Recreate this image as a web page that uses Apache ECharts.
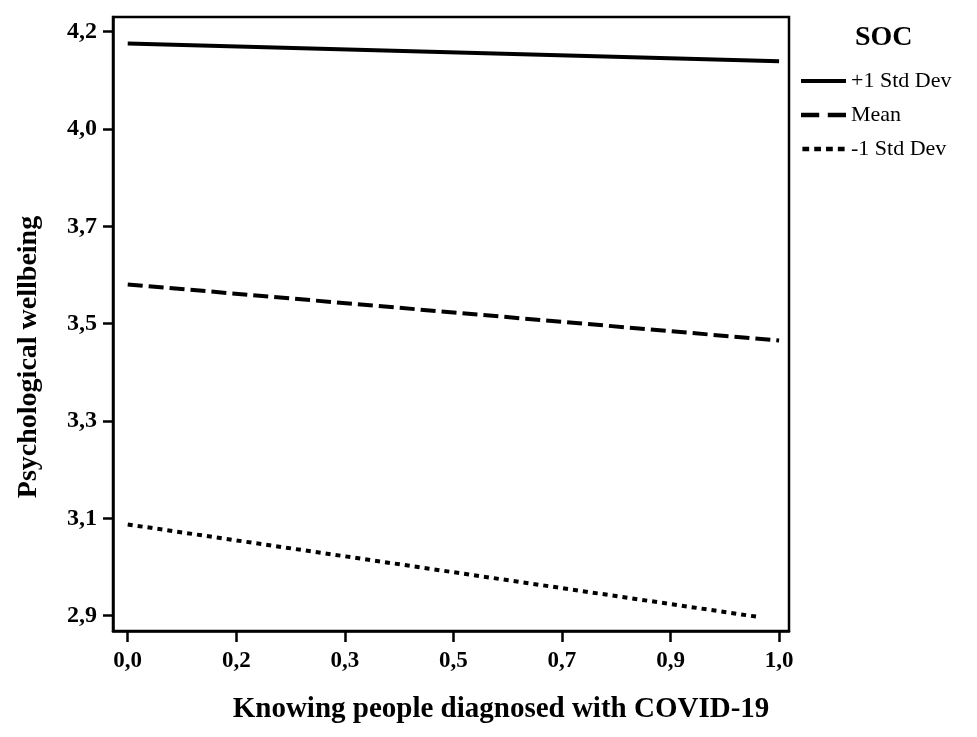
<!DOCTYPE html>
<html>
<head>
<meta charset="utf-8">
<script src="https://cdn.jsdelivr.net/npm/echarts@6.0.0/dist/echarts.min.js"></script>
<style>
html,body{margin:0;padding:0;background:#fff;}
#chart{width:977px;height:737px;}
</style>
</head>
<body>
<div id="chart"></div>
<script>
// ---- data ----
var seriesNames = ['+1 Std Dev', 'Mean', '-1 Std Dev'];
var xPlusSD = [0, 1];
var plusSD = [4.135, 4.097];
var xMean = [0, 1];
var meanVals = [3.620, 3.500];
var xMinusSD = [0, 0.965];
var minusSD = [3.107, 2.910];

var xTickValues = [0, 0.1667, 0.3333, 0.5, 0.6667, 0.8333, 1];
var xTickLabels = ['0,0', '0,2', '0,3', '0,5', '0,7', '0,9', '1,0'];
var yTickValues = [2.912, 3.12, 3.328, 3.536, 3.744, 3.952, 4.16];
var yTickLabels = ['2,9', '3,1', '3,3', '3,5', '3,7', '4,0', '4,2'];

var xTitle = 'Knowing people diagnosed with COVID-19';
var yTitle = 'Psychological wellbeing';
var legendTitle = 'SOC';

// ---- helpers ----
function pairs(xs, ys) { return xs.map(function (x, i) { return [x, ys[i]]; }); }
function labelFor(values, labels) {
  return function (v) {
    var best = 0, bd = Infinity;
    for (var i = 0; i < values.length; i++) {
      var d = Math.abs(values[i] - v);
      if (d < bd) { bd = d; best = i; }
    }
    return bd < 1e-3 ? labels[best] : '';
  };
}

var FONT = "'Liberation Serif', 'Times New Roman', serif";
var legendIcons = [
  'path://M0,0H45V4H0Z',
  'path://M0,0H17V4H0Z M25,0H42V4H25Z',
  'path://M0,0H6V4H0Z M10.5,0H16.5V4H10.5Z M21,0H27V4H21Z M31.5,0H37.5V4H31.5Z'
];

var chart = echarts.init(document.getElementById('chart'), null, { renderer: 'canvas' });

var option = {
  backgroundColor: '#ffffff',
  animation: false,
  title: {
    text: legendTitle,
    left: 850,
    top: 19,
    textStyle: { fontFamily: FONT, fontWeight: 'bold', fontSize: 28, color: '#000' }
  },
  legend: {
    orient: 'vertical',
    left: 796,
    top: 65,
    itemWidth: 45,
    itemHeight: 4.5,
    itemGap: 12,
    data: seriesNames.map(function (n, i) { return { name: n, icon: legendIcons[i] }; }),
    textStyle: { fontFamily: FONT, fontSize: 22, color: '#000' }
  },
  grid: {
    left: 113, top: 17, width: 676, height: 614,
    show: true, borderColor: '#000', borderWidth: 2.5,
    containLabel: false,
    outerBoundsMode: 'none'
  },
  xAxis: {
    type: 'value',
    min: -0.0226,
    max: 1.0152,
    name: xTitle,
    nameLocation: 'middle',
    nameGap: 64,
    nameTextStyle: { fontFamily: FONT, fontWeight: 'bold', fontSize: 29, color: '#000', padding: [0, 0, 0, 100] },
    axisLine: { show: true, onZero: false, lineStyle: { color: '#000', width: 2.5 } },
    axisTick: { show: true, length: 11, lineStyle: { color: '#000', width: 2.5 }, customValues: xTickValues },
    axisLabel: { customValues: xTickValues, formatter: labelFor(xTickValues, xTickLabels), margin: 19,
      fontFamily: FONT, fontWeight: 'bold', fontSize: 23, color: '#000' },
    splitLine: { show: false }
  },
  yAxis: {
    type: 'value',
    min: 2.8793,
    max: 4.1914,
    name: yTitle,
    nameLocation: 'middle',
    nameGap: 70,
    nameTextStyle: { fontFamily: FONT, fontWeight: 'bold', fontSize: 28, color: '#000', padding: [0, 66, 0, 0] },
    axisLine: { show: true, onZero: false, lineStyle: { color: '#000', width: 2.5 } },
    axisTick: { show: true, length: 10, lineStyle: { color: '#000', width: 2.5 }, customValues: yTickValues },
    axisLabel: { customValues: yTickValues, formatter: labelFor(yTickValues, yTickLabels), margin: 16,
      fontFamily: FONT, fontWeight: 'bold', fontSize: 24, color: '#000' },
    splitLine: { show: false }
  },
  series: [
    {
      name: seriesNames[0], type: 'line', symbol: 'none', color: '#000',
      data: pairs(xPlusSD, plusSD),
      lineStyle: { color: '#000', width: 4, type: 'solid', cap: 'butt' }
    },
    {
      name: seriesNames[1], type: 'line', symbol: 'none', color: '#000',
      data: pairs(xMean, meanVals),
      lineStyle: { color: '#000', width: 4, type: [15, 6], cap: 'butt' }
    },
    {
      name: seriesNames[2], type: 'line', symbol: 'none', color: '#000',
      data: pairs(xMinusSD, minusSD),
      lineStyle: { color: '#000', width: 4, type: [5, 5], cap: 'butt' }
    }
  ]
};
chart.setOption(option);
</script>
</body>
</html>
